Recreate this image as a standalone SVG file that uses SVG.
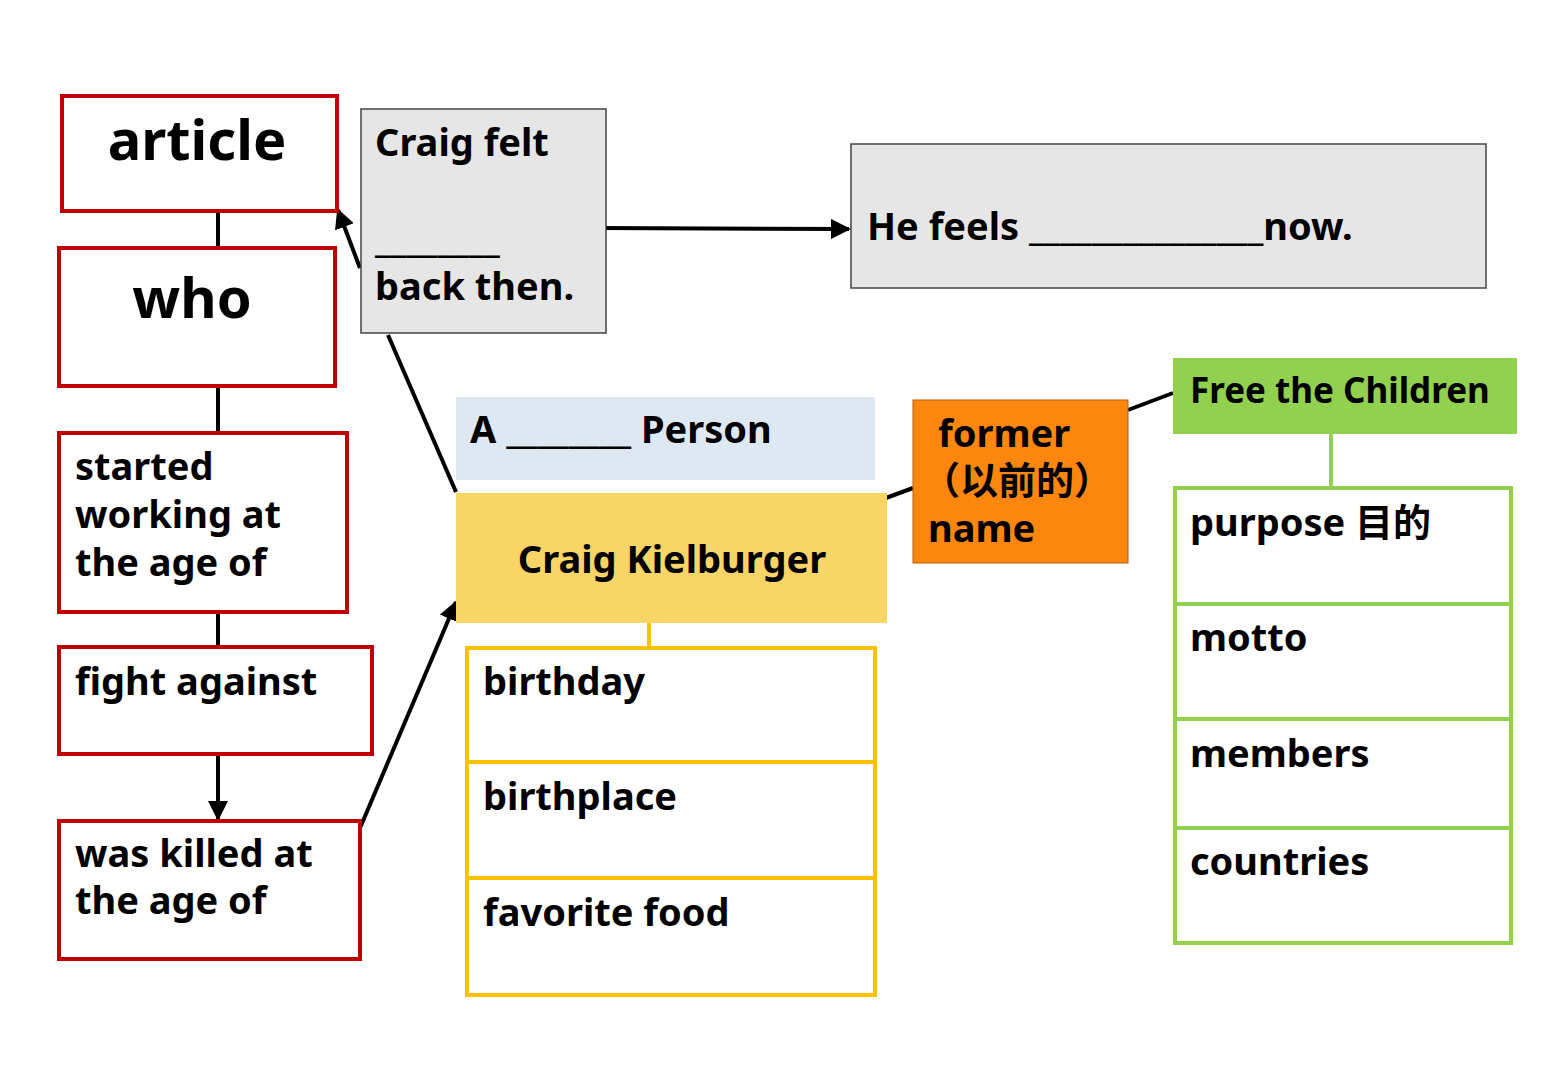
<svg xmlns="http://www.w3.org/2000/svg" width="1560" height="1080" viewBox="0 0 1560 1080">
<defs>
<marker id="ah" viewBox="0 0 10 10" refX="9" refY="5" markerWidth="5" markerHeight="5" orient="auto"><path d="M0,0L10,5L0,10z" fill="#000"/></marker>
<style>
text{font-family:"Noto Sans","Noto Sans CJK SC",sans-serif;font-weight:bold;fill:#000;font-size:38px}
.red{fill:#fff;stroke:#c00000;stroke-width:4}
.gray{fill:#e6e6e6;stroke:#444;stroke-width:1.5}
.yel{fill:#fff;stroke:#ffc000;stroke-width:4}
.grn{fill:#fff;stroke:#92d050;stroke-width:4}
.big{font-size:56px}
.c{stroke:#000;stroke-width:4;fill:none}
</style>
</defs>
<rect width="1560" height="1080" fill="#fff"/>
<g id="connectors">
<line class="c" x1="218" y1="211" x2="218" y2="248"/>
<line class="c" x1="218" y1="386" x2="218" y2="433"/>
<line class="c" x1="218" y1="612" x2="218" y2="647"/>
<line class="c" x1="218" y1="754" x2="218" y2="819" marker-end="url(#ah)"/>
<line class="c" x1="598" y1="228" x2="849" y2="229" marker-end="url(#ah)"/>
<line class="c" x1="360" y1="268" x2="338" y2="210" marker-end="url(#ah)"/>
<line class="c" x1="388" y1="335" x2="456" y2="492"/>
<line class="c" x1="360" y1="828" x2="456" y2="602" marker-end="url(#ah)"/>
<line class="c" x1="875" y1="502" x2="913" y2="488"/>
<line class="c" x1="1128" y1="410" x2="1173" y2="393"/>
<line x1="649" y1="613" x2="649" y2="648" stroke="#ffc000" stroke-width="4"/>
<line x1="1331" y1="434" x2="1331" y2="488" stroke="#92d050" stroke-width="4"/>
</g>
<g id="article"><rect class="red" x="62" y="96" width="275" height="115"/><text class="big" x="197" y="160" text-anchor="middle">article</text></g>
<g id="who"><rect class="red" x="59" y="248" width="276" height="138"/><text class="big" x="192" y="318" text-anchor="middle">who</text></g>
<g id="started"><rect class="red" x="59" y="433" width="288" height="179"/><text x="75" y="480">started</text><text x="75" y="528">working at</text><text x="75" y="576">the age of</text></g>
<g id="fight"><rect class="red" x="59" y="647" width="313" height="107"/><text x="75" y="695">fight against</text></g>
<g id="killed"><rect class="red" x="59" y="821" width="301" height="138"/><text x="75" y="867">was killed at</text><text x="75" y="914">the age of</text></g>
<g id="felt"><rect class="gray" x="361" y="109" width="245" height="224"/><text x="375" y="156">Craig felt</text><text x="375" y="252">________</text><text x="375" y="300">back then.</text></g>
<g id="feels"><rect class="gray" x="851" y="144" width="635" height="144"/><text x="867" y="240">He feels _______________now.</text></g>
<g id="person"><rect x="456" y="397" width="419" height="83" fill="#dde8f3"/><text x="470" y="443">A ________ Person</text></g>
<g id="craig"><rect x="456" y="493" width="431" height="130" fill="#f9d466"/><text x="672" y="573" text-anchor="middle">Craig  Kielburger</text></g>
<g id="birthday"><rect class="yel" x="467" y="648" width="408" height="114"/><text x="483" y="695">birthday</text></g>
<g id="birthplace"><rect class="yel" x="467" y="762" width="408" height="116"/><text x="483" y="810">birthplace</text></g>
<g id="food"><rect class="yel" x="467" y="878" width="408" height="117"/><text x="483" y="926">favorite food</text></g>
<g id="former"><rect x="913" y="400" width="215" height="163" fill="#fd870e" stroke="#b85c00" stroke-width="1"/><text x="938" y="447">former</text><text x="922" y="494">（以前的）</text><text x="928" y="542">name</text></g>
<g id="ftc"><rect x="1173" y="358" width="344" height="76" fill="#92d050"/><text x="1190" y="403" style="font-size:35px">Free the Children</text></g>
<g id="purpose"><rect class="grn" x="1175" y="488" width="336" height="116"/><text x="1190" y="536">purpose  目的</text></g>
<g id="motto"><rect class="grn" x="1175" y="604" width="336" height="115"/><text x="1190" y="651">motto</text></g>
<g id="members"><rect class="grn" x="1175" y="719" width="336" height="109"/><text x="1190" y="767">members</text></g>
<g id="countries"><rect class="grn" x="1175" y="828" width="336" height="115"/><text x="1190" y="875">countries</text></g>
</svg>
